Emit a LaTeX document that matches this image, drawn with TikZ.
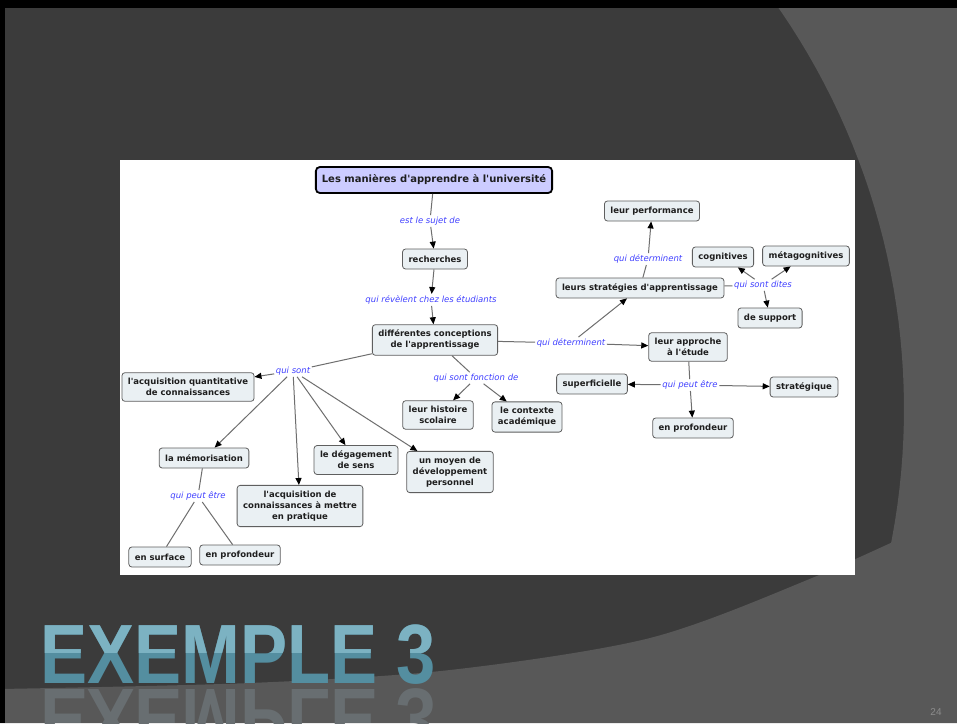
\documentclass[tikz,border=0pt]{standalone}
\usepackage{fontspec}
\usepackage{tikz}
\usetikzlibrary{arrows.meta,shapes}
\newfontfamily\carteFont{DejaVu Sans}
\newfontfamily\slideFont{Liberation Sans}
\definecolor{fondsombre}{RGB}{59,59,59}
\definecolor{fondclair}{RGB}{88,88,88}
\definecolor{bleulien}{RGB}{64,64,255}
\definecolor{boite}{RGB}{234,240,243}
\definecolor{bord}{RGB}{95,95,95}
\definecolor{titrecarte}{RGB}{204,204,255}
\definecolor{traitgris}{RGB}{110,110,110}
\definecolor{sarcelle}{RGB}{84,142,160}
\definecolor{sarcelleclair}{RGB}{124,178,194}
\definecolor{reflet}{RGB}{104,110,113}
\definecolor{numgris}{RGB}{140,140,140}
\tikzstyle{concept}=[draw=bord, line width=0.8pt, fill=boite, rounded corners=3pt,
  inner xsep=6pt, inner ysep=5.5pt, minimum height=20pt, align=center,
  text={rgb,255:red,30;green,30;blue,30}, font=\carteFont\bfseries\fontsize{8.5}{11}\selectfont]
\tikzstyle{titre}=[concept, draw=black, line width=1.8pt, fill=titrecarte, rounded corners=4pt,
  minimum height=26pt, font=\carteFont\bfseries\fontsize{10}{12}\selectfont]
\tikzstyle{lien}=[text=bleulien, inner sep=1.5pt, font=\carteFont\itshape\fontsize{8.5}{10}\selectfont]
\tikzstyle{trait}=[draw=traitgris, line width=1pt]
\tikzstyle{fleche}=[trait, -{Triangle[length=7pt,width=6pt,black]}]
\tikzstyle{gros}=[anchor=base west, inner sep=0pt, xscale=0.84, transform shape,
  font=\slideFont\bfseries\fontsize{84}{84}\selectfont]

\begin{document}
\begin{tikzpicture}[x=1pt,y=-1pt]
  \useasboundingbox (0,0) rectangle (957,723);
  \clip (0,0) rectangle (957,723);
  % fond de la diapositive
  \fill[fondsombre] (0,0) rectangle (957,723);
  \fill[fondclair] plot[domain=-37:16,samples=40] ({200+704*cos(\x)},{409+704*sin(\x)})
    -- (957,603) -- (957,0) -- cycle;
  \fill[fondclair] plot[smooth] coordinates {(0,689) (250,683) (450,670) (650,638) (812,578) (957,512)}
    -- (957,723) -- (0,723) -- cycle;
  \fill[black] (0,0) rectangle (957,8);
  \fill[black] (0,0) rectangle (5,723);
  \fill[white] (120,160) rectangle (855,575);

  % carte conceptuelle
  \node[titre] (titre) at (434,180) {Les manières d'apprendre à l'université};
  \node[lien] (l1) at (430,221) {est le sujet de};
  \node[concept] (rech) at (435,259) {recherches};
  \node[lien] (l2) at (431,300) {qui révèlent chez les étudiants};
  \node[concept] (concep) at (435,340) {différentes conceptions\\de l'apprentissage};

  \node[lien] (l3) at (293,371) {qui sont};
  \node[concept] (quant) at (188,387) {l'acquisition quantitative\\de connaissances};
  \node[concept] (memo) at (204,458) {la mémorisation};
  \node[concept] (pratique) at (300,506) {l'acquisition de\\connaissances à mettre\\en pratique};
  \node[concept] (sens) at (356,460) {le dégagement\\de sens};
  \node[concept] (moyen) at (450,472) {un moyen de\\développement\\personnel};
  \node[lien] (l4) at (198,496) {qui peut être};
  \node[concept] (surface) at (160,557) {en surface};
  \node[concept] (profG) at (240,555) {en profondeur};

  \node[lien] (l5) at (476,378) {qui sont fonction de};
  \node[concept] (histoire) at (438,415) {leur histoire\\scolaire};
  \node[concept] (contexte) at (527,417) {le contexte\\académique};

  \node[lien] (l6) at (571,343) {qui déterminent};
  \node[concept] (approche) at (688,347) {leur approche\\à l'étude};
  \node[concept] (strat) at (640,288) {leurs stratégies d'apprentissage};
  \node[lien] (l7) at (648,259) {qui déterminent};
  \node[concept] (perf) at (652,211) {leur performance};
  \node[lien] (l8) at (763,285) {qui sont dites};
  \node[concept] (cogn) at (723,257) {cognitives};
  \node[concept] (meta) at (806,256) {métagognitives};
  \node[concept] (support) at (770,318) {de support};

  \node[lien] (l9) at (690,385) {qui peut être};
  \node[concept] (superf) at (592,384) {superficielle};
  \node[concept] (strateg) at (804,387) {stratégique};
  \node[concept] (profD) at (693,428) {en profondeur};

  % liens
  \draw[trait] (titre) -- (l1);
  \draw[fleche] (l1) -- (rech);
  \draw[fleche] (rech) -- (l2);
  \draw[fleche] (l2) -- (concep);
  \draw[trait] (concep) -- (l3);
  \foreach \c in {quant,memo,pratique,sens,moyen}
    \draw[fleche] (l3) -- (\c);
  \draw[trait] (memo) -- (l4);
  \foreach \c in {surface,profG}
    \draw[trait] (l4) -- (\c);
  \draw[trait] (concep) -- (l5);
  \foreach \c in {histoire,contexte}
    \draw[fleche] (l5) -- (\c);
  \draw[trait] (concep) -- (l6);
  \foreach \c in {approche,strat}
    \draw[fleche] (l6) -- (\c);
  \draw[trait] (strat) -- (l7);
  \draw[fleche] (l7) -- (perf);
  \draw[trait] (strat) -- (l8);
  \foreach \c in {cogn,meta,support}
    \draw[fleche] (l8) -- (\c);
  \draw[trait] (approche) -- (l9);
  \foreach \c in {superf,strateg,profD}
    \draw[fleche] (l9) -- (\c);

  % titre de la diapositive
  \begin{scope}[shift={(40,683)}]
    \node[gros, text=sarcelle] (exemple) at (0,0) {EXEMPLE 3};
  \end{scope}
  \begin{scope}
    \clip (0,600) rectangle (500,652);
    \begin{scope}[shift={(40,683)}]
      \node[gros, text=sarcelleclair] (exclair) at (0,0) {EXEMPLE 3};
    \end{scope}
  \end{scope}
  \begin{scope}[shift={(40,689)}]
    \node[gros, yscale=-1, text=reflet] (exreflet) at (0,0) {EXEMPLE 3};
  \end{scope}
  \node[text=numgris, font=\slideFont\fontsize{10}{10}\selectfont] (num) at (936,712) {24};
\end{tikzpicture}
\end{document}
